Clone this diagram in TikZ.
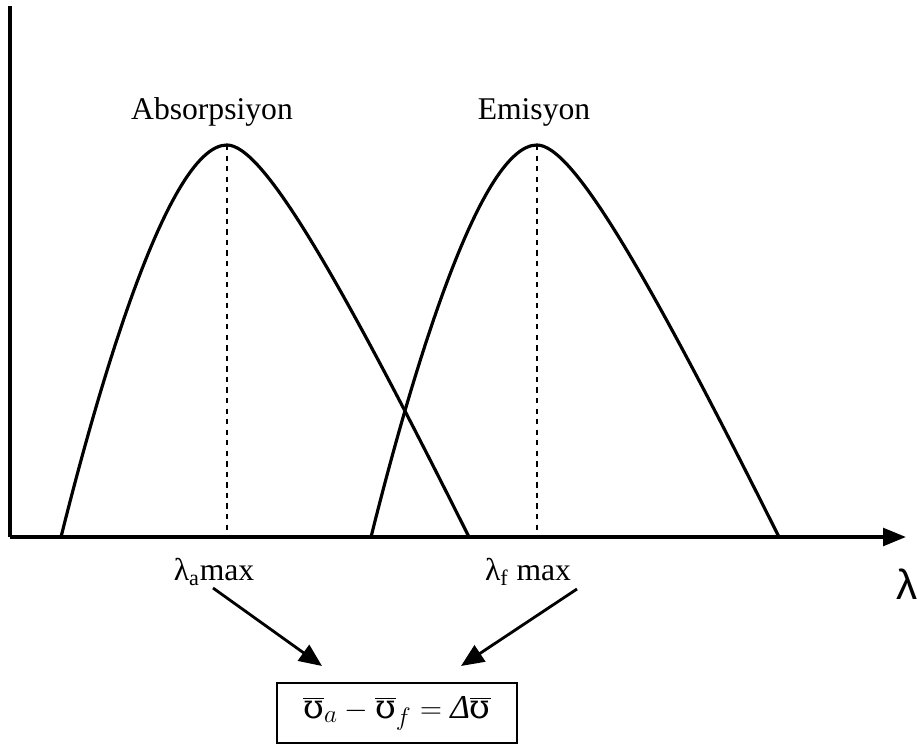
\documentclass[tikz,border=0pt]{standalone}
\usepackage{fontspec}
\setmainfont{Liberation Serif}
\newfontfamily\lamfont{Liberation Sans}
\newfontfamily\upsfont{DejaVu Serif}
\usetikzlibrary{arrows.meta}
\begin{document}
\begin{tikzpicture}[x=0.02cm,y=-0.02cm,
  axisline/.style={line width=2pt},
  curveline/.style={line width=1.8pt,line join=round},
  peakline/.style={dashed,line width=0.6pt},
  lbl/.style={font=\fontsize{18}{20}\selectfont,inner sep=0pt},
  pointer/.style={line width=1.6pt,-{Triangle[length=13pt,width=11pt]}},
  eqbox/.style={draw,line width=1.1pt,minimum width=240*0.02cm,minimum height=60*0.02cm,inner sep=0pt}]
\useasboundingbox (0,0) rectangle (917,747);
% axes
\coordinate (O) at (10,537);
\coordinate (ytop) at (10,6);
\coordinate (xend) at (906,537);
\draw[axisline] (ytop) -- (O);
\draw[axisline,-{Triangle[length=13pt,width=10pt]}] (O) -- (xend);
% peaks
\coordinate (pa) at (227,145);
\coordinate (pa0) at (227,537);
\coordinate (pf) at (537,145);
\coordinate (pf0) at (537,537);
\draw[peakline] (pa) -- (pa0);
\draw[peakline] (pf) -- (pf0);
% curves
\coordinate (a0) at (61,537);
\coordinate (a1) at (469,537);
\coordinate (f0) at (371,537);
\coordinate (f1) at (779,537);
\draw[curveline] (a0) .. controls (106,357) and (172,145) .. (pa)
  .. controls (262,145) and (335,269) .. (a1);
\draw[curveline] (f0) .. controls (416,357) and (482,145) .. (pf)
  .. controls (572,145) and (645,269) .. (f1);
% titles
\node[lbl] (tabs) at (212,112) {Absorpsiyon};
\node[lbl] (temi) at (534,112) {Emisyon};
% lambda labels
\node[lbl] (la) at (214,572) {λ\textsubscript{a}max};
\node[lbl] (lf) at (528,572) {λ\textsubscript{f} max};
\node[inner sep=0pt,font=\lamfont\fontsize{24}{26}\selectfont] (lam) at (907,584) {λ};
% equation box
\node[eqbox] (eq) at (397,713) {\fontsize{19}{21}\selectfont
  $\overline{\hbox{\upsfont ʊ}}_{a}-\overline{\hbox{\upsfont ʊ}}_{f}=\hbox{\itshape Δ}\overline{\hbox{\upsfont ʊ}}$};
\coordinate (ta) at (322,666);
\coordinate (tf) at (461,666);
\coordinate (sa) at (213,588);
\coordinate (sf) at (577,589);
\draw[pointer] (sa) -- (ta);
\draw[pointer] (sf) -- (tf);
\end{tikzpicture}
\end{document}
